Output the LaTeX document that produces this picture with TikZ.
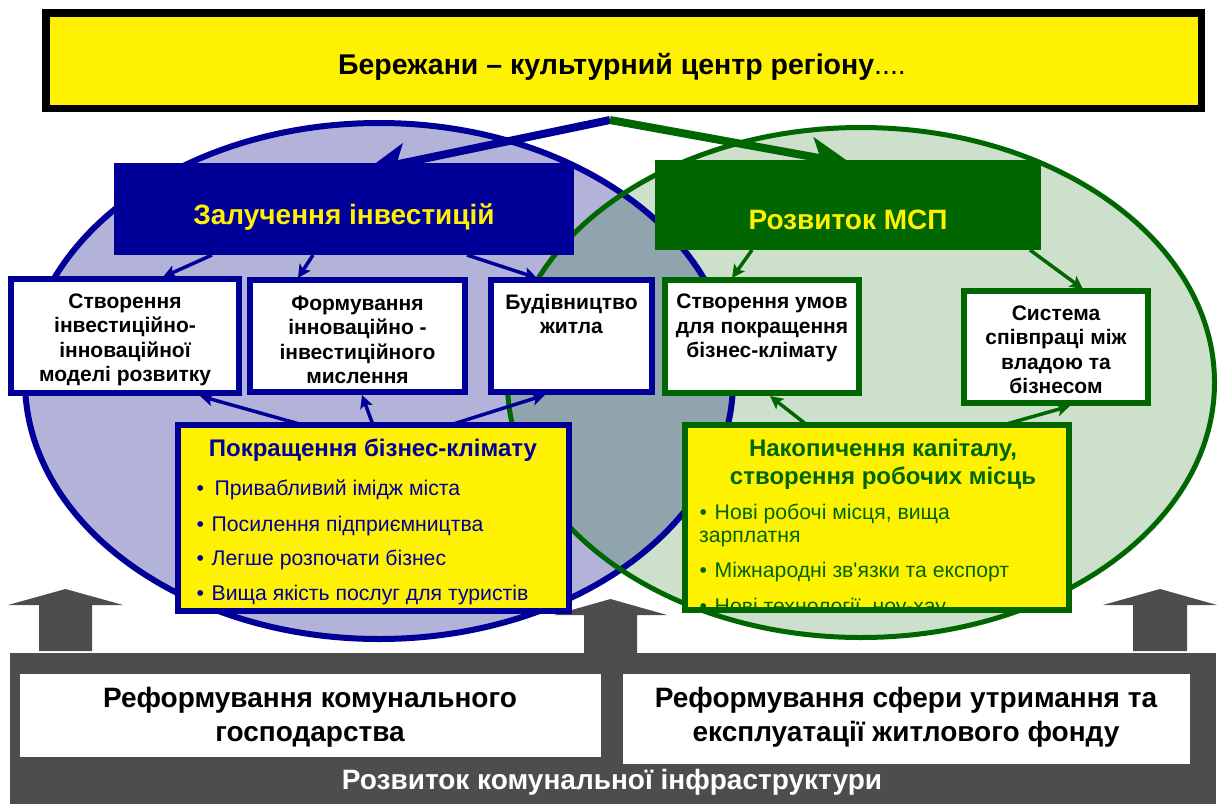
\documentclass[tikz,border=0pt]{standalone}
\usepackage{fontspec}
\setmainfont{Liberation Sans}
\usetikzlibrary{arrows.meta,calc}
\definecolor{navy}{RGB}{0,0,153}
\definecolor{dgreen}{RGB}{0,102,0}
\definecolor{lav}{RGB}{179,179,217}
\definecolor{lgreen}{RGB}{204,224,204}
\definecolor{overlapc}{RGB}{143,164,172}
\definecolor{dgray}{RGB}{77,77,77}
\newcommand\myfs[2]{\fontsize{#1}{#2}\selectfont}
\newcommand\bul{\makebox[15pt][l]{•}}
\begin{document}
\begin{tikzpicture}[x=1pt,y=-1pt,
  box/.style={draw, line width=6pt, fill=white, inner sep=0pt, outer sep=0pt},
  hdr/.style={inner sep=0pt, outer sep=0pt},
  boxtxt/.style={inner sep=0pt, align=center, font=\bfseries\myfs{21}{24.5}},
  bultxt/.style={inner sep=0pt, anchor=base west, font=\myfs{21.2}{24}},
  sarrow/.style={line width=3.5pt, -{Stealth[length=13pt,width=13pt,inset=3pt]}},
  bigarrow/.style={line width=8pt, -{Stealth[length=42pt,width=38pt,inset=10pt]}}]
\useasboundingbox (0,0) rectangle (1219,804);
\clip (0,0) rectangle (1219,804);

% ellipses
\fill[lav] (379,381) ellipse [x radius=354pt, y radius=258pt];
\fill[lgreen] (861,382.5) ellipse [x radius=353.5pt, y radius=255pt];
\begin{scope}
  \clip (379,381) ellipse [x radius=354pt, y radius=258pt];
  \fill[overlapc] (861,382.5) ellipse [x radius=353.5pt, y radius=255pt];
\end{scope}
\draw[navy, line width=6pt] (379,381) ellipse [x radius=354pt, y radius=258pt];
\draw[dgreen, line width=5pt] (861,382.5) ellipse [x radius=353.5pt, y radius=255pt];

% banner
\node[draw=black, line width=7.5pt, fill=yellow, minimum width=1155.5pt, minimum height=95.5pt, inner sep=0pt] (banner) at (623.5,60.5) {};
\node[inner sep=0pt, font=\bfseries\myfs{28.5}{30}] (title) at (622,67) {Бережани – культурний центр регіону{\mdseries....}};

% headers
\node[hdr, fill=navy, minimum width=460pt, minimum height=92pt] (zb) at (344,209) {};
\node[hdr, fill=dgreen, minimum width=386pt, minimum height=90pt] (mb) at (848,205) {};

% big arrows
\coordinate (src) at ($(banner.south)+(-13.5,8)$);
\draw[bigarrow, navy] (src) -- ($(zb.north)+(21,8)$);
\draw[bigarrow, dgreen] (src) -- ($(mb.north)+(4,4)$);

\node[inner sep=0pt, text=yellow, font=\bfseries\myfs{28}{30}] at (344,217) {Залучення інвестицій};
\node[inner sep=0pt, text=yellow, font=\bfseries\myfs{28}{30}] at (848,220) {Розвиток МСП};

% boxes
\node[box, draw=navy, minimum width=228pt, minimum height=114pt] (b1) at (125,336) {};
\node[box, draw=navy, minimum width=215pt, minimum height=112pt] (b2) at (357.5,336) {};
\node[box, draw=navy, minimum width=161pt, minimum height=112pt] (b3) at (571.5,336) {};
\node[box, draw=dgreen, minimum width=194pt, minimum height=113pt] (g1) at (762,336.5) {};
\node[box, draw=dgreen, minimum width=184pt, minimum height=112pt] (g2) at (1056,347) {};

\node[boxtxt] at (125,340) {Створення\\інвестиційно-\\інноваційної\\моделі розвитку};
\node[boxtxt] at (357.5,340) {Формування\\інноваційно -\\інвестиційного\\мислення};
\node[boxtxt] at (571.5,314) {Будівництво\\житла};
\node[boxtxt] at (762,328) {Створення умов\\для покращення\\бізнес-клімату};
\node[boxtxt] at (1056,350) {Система\\співпраці між\\владою та\\бізнесом};

% arrows from headers
\draw[sarrow, navy] ($(zb.south)+(-132,0)$) -- ($(b1.north)+(38,-2)$);
\draw[sarrow, navy] ($(zb.south)+(-31,0)$) -- ($(b2.north)+(-59.5,-2)$);
\draw[sarrow, navy] ($(zb.south)+(123,0)$) -- ($(b3.north)+(-34.5,-2)$);
\draw[sarrow, dgreen] ($(mb.south)+(-96,0)$) -- ($(g1.north)+(-30,-2)$);
\draw[sarrow, dgreen] ($(mb.south)+(182,0)$) -- ($(g2.north)+(27,-2)$);

% gray infrastructure
\node[hdr, fill=dgray, minimum width=1206pt, minimum height=151pt, anchor=north west] (bar) at (10,653) {};
\fill[dgray] (39,651) -- (39,605) -- (8,605) -- (65.5,589) -- (123,605) -- (92,605) -- (92,651) -- cycle;
\fill[dgray] (584,654) -- (584,615) -- (554,615) -- (610.5,599) -- (667,615) -- (637,615) -- (637,654) -- cycle;
\fill[dgray] (1133,651) -- (1133,605) -- (1103,605) -- (1160,589) -- (1217,605) -- (1187,605) -- (1187,651) -- cycle;

% yellow boxes
\node[box, draw=navy, fill=yellow, minimum width=391pt, minimum height=186pt] (py) at (373.5,518) {};
\node[box, draw=dgreen, fill=yellow, minimum width=384pt, minimum height=185pt] (ny) at (877,517.5) {};

\node[inner sep=0pt, text=navy, font=\bfseries\myfs{24}{28}] at (373,450) {Покращення бізнес-клімату};
\begin{scope}[every node/.style={bultxt, text=navy}]
\node at (196.5,495) {\bul\hspace{3pt}Привабливий імідж міста};
\node at (196.5,531) {\bul Посилення підприємництва};
\node at (196.5,565) {\bul Легше розпочати бізнес};
\node at (196.5,600) {\bul Вища якість послуг для туристів};
\end{scope}

\node[inner sep=0pt, align=center, text=dgreen, font=\bfseries\myfs{24}{28}] at (883,464) {Накопичення капіталу,\\створення робочих місць};
\begin{scope}[every node/.style={bultxt, text=dgreen}]
\node at (699.5,519) {\bul Нові робочі місця, вища};
\node at (699,542) {зарплатня};
\node at (699.5,577) {\bul Міжнародні зв\textquotesingle язки та експорт};
\begin{scope}
  \clip (688,428) rectangle (1066,607);
  \node at (699.5,613) {\bul Нові технології, ноу-хау};
\end{scope}
\end{scope}

% arrows from yellow boxes
\draw[sarrow, navy] ($(py.north)+(-70.5,0)$) -- ($(b1.south)+(75,3)$);
\draw[sarrow, navy] ($(py.north)+(-0.5,0)$) -- ($(b2.south)+(4.5,3)$);
\draw[sarrow, navy] ($(py.north)+(76.5,0)$) -- ($(b3.south)+(-26.5,3)$);
\draw[sarrow, dgreen] ($(ny.north)+(-70,0)$) -- ($(g1.south)+(8,3)$);
\draw[sarrow, dgreen] ($(ny.north)+(126,0)$) -- ($(g2.south)+(14,3)$);

% bottom boxes
\node[draw=black!70, line width=1pt, fill=white, inner sep=0pt, minimum width=582pt, minimum height=84pt] (bA) at (310,715) {};
\node[draw=black!70, line width=1pt, fill=white, inner sep=0pt, minimum width=568pt, minimum height=91pt] (bB) at (906,718.5) {};
\node[inner sep=0pt, align=center, font=\bfseries\myfs{28}{34}] at (310,717) {Реформування комунального\\господарства};
\node[inner sep=0pt, align=center, font=\bfseries\myfs{28}{34}] at (906,717) {Реформування сфери утримання та\\експлуатації житлового фонду};
\node[inner sep=0pt, text=white, font=\bfseries\myfs{28}{30}] at (612,782) {Розвиток комунальної інфраструктури};
\end{tikzpicture}
\end{document}
